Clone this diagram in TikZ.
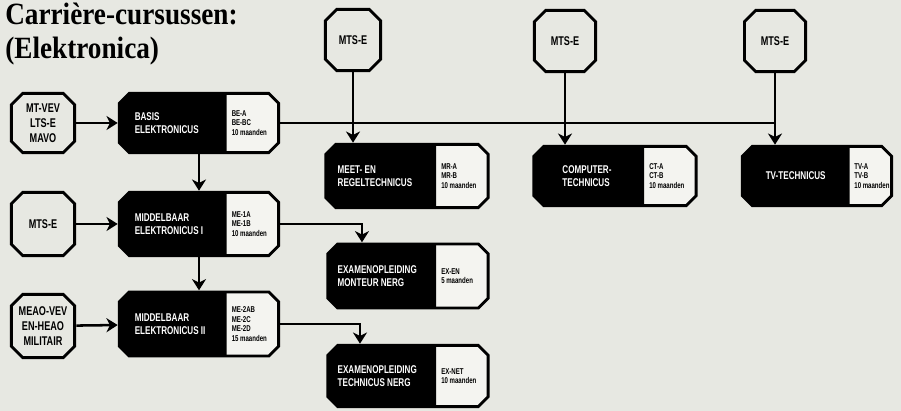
\documentclass[tikz,border=0pt]{standalone}
\usepackage{fontspec}
\setmainfont{Liberation Serif}
\newfontfamily\condfont[FakeStretch=0.72]{Liberation Sans}
\newfontfamily\titlefont[FakeStretch=0.88]{Liberation Serif}
\usetikzlibrary{arrows.meta,positioning,calc}
\definecolor{paper}{RGB}{231,232,226}
\definecolor{panelwhite}{RGB}{244,244,240}
% hoekpunten binnen de node (half lijndikte naar binnen)
\newcommand{\setcorners}{%
  \coordinate (cNW) at ([shift={(1pt,-1pt)}]path picture bounding box.north west);
  \coordinate (cNE) at ([shift={(-1pt,-1pt)}]path picture bounding box.north east);
  \coordinate (cSE) at ([shift={(-1pt,1pt)}]path picture bounding box.south east);
  \coordinate (cSW) at ([shift={(1pt,1pt)}]path picture bounding box.south west);}
\newcommand{\chamferpoly}[1]{([xshift=#1]cNW) -- ([xshift=-#1]cNE) -- ([yshift=-#1]cNE) -- ([yshift=#1]cSE) -- ([xshift=-#1]cSE) -- ([xshift=#1]cSW) -- ([yshift=#1]cSW) -- ([yshift=-#1]cNW) -- cycle}

\begin{document}
\begin{tikzpicture}[
      x=0.025cm, y=-0.025cm,
      entry/.style={rectangle, inner sep=0pt, minimum width=1.65cm, minimum height=1.55cm, align=center, font=\condfont\bfseries\fontsize{9}{10.5}\selectfont,
        path picture={\setcorners \fill[paper] \chamferpoly{8pt}; \draw[line width=2pt] \chamferpoly{8pt};}},
      course/.style={rectangle, inner sep=0pt, minimum height=1.55cm,
        path picture={\setcorners
          \fill[panelwhite] \chamferpoly{7pt};
          \fill[black] ([xshift=7pt]cNW) -- ([xshift=-#1]cNE) -- ([xshift=-#1]cSE) -- ([xshift=7pt]cSW) -- ([yshift=7pt]cSW) -- ([yshift=-7pt]cNW) -- cycle;
          \draw[line width=2pt, line join=miter] \chamferpoly{7pt};}},
      course/.default=1.3cm,
      ctitle/.style={anchor=west, text=white, align=left, inner sep=0pt, font=\condfont\bfseries\fontsize{8}{9.5}\selectfont},
      cinfo/.style={anchor=west, align=left, inner sep=0pt, font=\condfont\bfseries\fontsize{6}{6.8}\selectfont},
      arr/.style={-{Stealth[length=8pt,width=10pt,inset=2.5pt]}, line width=1.8pt},
      lin/.style={line width=1.8pt}
    ]
      \useasboundingbox (0,0) rectangle (901,411);
      \fill[paper] (0,0) rectangle (901,411);
      \node[anchor=north west, inner sep=0pt, align=left, font=\titlefont\bfseries\fontsize{22}{24}\selectfont] (title) at (5,3) {Carrière-cursussen:\\(Elektronica)};
      % vooropleidingen
      \node[entry] (mtvev) at (43,123) {MT-VEV\\LTS-E\\MAVO};
      \node[entry, minimum height=1.65cm] (mtsa) at (43,224) {MTS-E};
      \node[entry, minimum height=1.65cm] (meao) at (43,326) {MEAO-VEV\\EN-HEAO\\MILITAIR};
      \node[entry, minimum width=1.45cm, minimum height=1.6cm] (mtsb) at (353,40) {MTS-E};
      \node[entry, minimum width=1.6cm, minimum height=1.6cm] (mtsc) at (565,41) {MTS-E};
      \node[entry, minimum width=1.6cm, minimum height=1.6cm] (mtsd) at (775,41) {MTS-E};
      % cursussen
      \node[course, minimum width=4.05cm] (basis) at (199,123) {};
      \node[ctitle] (basis-t) at ([xshift=0.42cm]basis.west) {BASIS\\ELEKTRONICUS};
      \node[cinfo] (basis-i) at ([xshift=-1.22cm]basis.east) {BE-A\\BE-BC\\10 maanden};
      \node[course, minimum width=4.05cm, minimum height=1.65cm] (mid1) at (199,224) {};
      \node[ctitle] (mid1-t) at ([xshift=0.42cm]mid1.west) {MIDDELBAAR\\ELEKTRONICUS I};
      \node[cinfo] (mid1-i) at ([xshift=-1.22cm]mid1.east) {ME-1A\\ME-1B\\10 maanden};
      \node[course, minimum width=4.05cm, minimum height=1.67cm] (mid2) at (199,324) {};
      \node[ctitle] (mid2-t) at ([xshift=0.42cm]mid2.west) {MIDDELBAAR\\ELEKTRONICUS II};
      \node[cinfo] (mid2-i) at ([xshift=-1.22cm]mid2.east) {ME-2AB\\ME-2C\\ME-2D\\15 maanden};
      \node[course, minimum width=4.125cm, minimum height=1.65cm] (meet) at (407,176) {};
      \node[ctitle] (meet-t) at ([xshift=0.33cm]meet.west) {MEET- EN\\REGELTECHNICUS};
      \node[cinfo] (meet-i) at ([xshift=-1.22cm]meet.east) {MR-A\\MR-B\\10 maanden};
      \node[course, minimum width=4.125cm] (comp) at (615,176) {};
      \node[ctitle] (comp-t) at ([xshift=0.75cm]comp.west) {COMPUTER-\\TECHNICUS};
      \node[cinfo] (comp-i) at ([xshift=-1.22cm]comp.east) {CT-A\\CT-B\\10 maanden};
      \node[course=1.05cm, minimum width=3.8cm] (tv) at (817,176) {};
      \node[ctitle] (tv-t) at ([xshift=0.62cm]tv.west) {TV-TECHNICUS};
      \node[cinfo] (tv-i) at ([xshift=-0.98cm]tv.east) {TV-A\\TV-B\\10 maanden};
      \node[course, minimum width=4.075cm, minimum height=1.67cm] (exmon) at (408,276) {};
      \node[ctitle] (exmon-t) at ([xshift=0.28cm]exmon.west) {EXAMENOPLEIDING\\MONTEUR NERG};
      \node[cinfo] (exmon-i) at ([xshift=-1.22cm]exmon.east) {EX-EN\\5 maanden};
      \node[course, minimum width=4.075cm, minimum height=1.6cm] (extec) at (408,376) {};
      \node[ctitle] (extec-t) at ([xshift=0.28cm]extec.west) {EXAMENOPLEIDING\\TECHNICUS NERG};
      \node[cinfo] (extec-i) at ([xshift=-1.22cm]extec.east) {EX-NET\\10 maanden};
      % verbindingen
      \draw[arr] (mtvev) -- (basis);
      \draw[arr] (mtsa) -- (mid1);
      \draw[arr] (meao) -- (mid2);
      \draw[arr] (basis) -- (mid1);
      \draw[arr] (mid1) -- (mid2);
      \draw[lin] (basis.east) -- (basis.east -| mtsd.south);
      \draw[arr] (mtsb.south) -- (mtsb.south |- meet.north);
      \draw[arr] (mtsc.south) -- (mtsc.south |- comp.north);
      \draw[arr] (mtsd.south) -- (mtsd.south |- tv.north);
      \draw[arr] (mid1.east) -| ([xshift=-1.15cm]exmon.north);
      \draw[arr] (mid2.east) -| ([xshift=-1.2cm]extec.north);
    \end{tikzpicture}
\end{document}
